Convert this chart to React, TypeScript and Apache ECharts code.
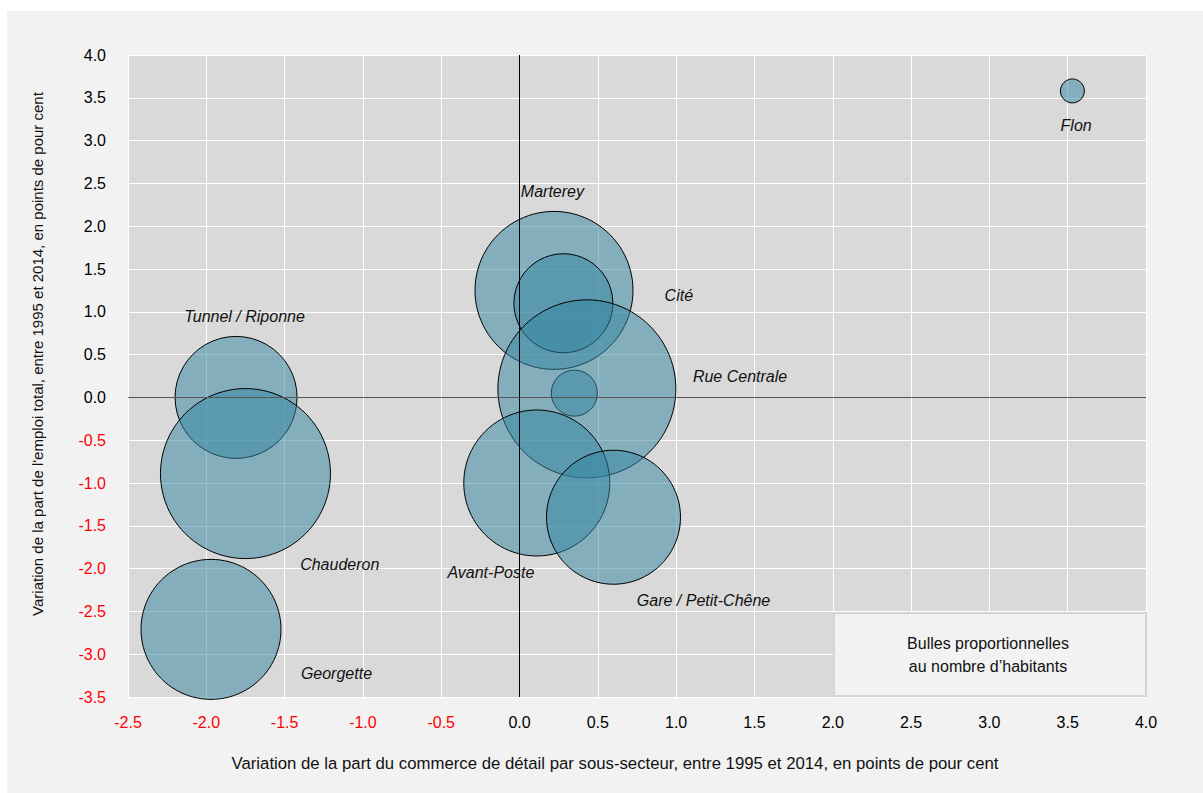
import React, { useEffect, useRef } from "react";
import * as echarts from "echarts";

// ---- Data ----
const districts = [
  "Flon",
  "Marterey",
  "Cité",
  "",
  "Rue Centrale",
  "Tunnel / Riponne",
  "Chauderon",
  "Georgette",
  "Avant-Poste",
  "Gare / Petit-Chêne",
];
// Variation de la part du commerce de détail (x)
const retailShareChange = [3.53, 0.22, 0.28, 0.35, 0.43, -1.81, -1.75, -1.97, 0.11, 0.6];
// Variation de la part de l'emploi total (y)
const employmentShareChange = [3.58, 1.25, 1.1, 0.05, 0.1, 0.0, -0.89, -2.71, -1.0, -1.4];
// Relative number of inhabitants (bubble area)
const inhabitants = [144, 6241, 2450, 529, 7921, 3721, 7225, 4900, 5329, 4489];

// Label anchors (data coordinates)
const labelNames = [
  "Flon",
  "Marterey",
  "Cité",
  "Rue Centrale",
  "Tunnel / Riponne",
  "Chauderon",
  "Avant-Poste",
  "Gare / Petit-Chêne",
  "Georgette",
];
const labelX = [3.554, 0.21, 1.017, 1.408, -1.756, -1.148, -0.183, 1.175, -1.169];
const labelY = [3.18, 2.4, 1.185, 0.24, 0.95, -1.95, -2.04, -2.37, -3.22];

const xTitle =
  "Variation de la part du commerce de détail par sous-secteur, entre 1995 et 2014, en points de pour cent";
const yTitle =
  "Variation de la part de l'emploi total, entre 1995 et 2014, en points de pour cent";
const noteLines = ["Bulles proportionnelles", "au nombre d\u2019habitants"];

const FONT = '"Liberation Sans", Arial, sans-serif';
const FS = 16;

export default function App() {
  const ref = useRef<HTMLDivElement>(null);

  useEffect(() => {
    if (!ref.current) return;
    const chart = echarts.init(ref.current, undefined, { renderer: "svg" });

    const bubbleData = districts.map((n, i) => [
      retailShareChange[i],
      employmentShareChange[i],
      inhabitants[i],
      n,
    ]);
    const labelData = labelNames.map((n, i) => [labelX[i], labelY[i], n]);

    const tickColor = (v: any) => (Number(v) < 0 ? "#ff0000" : "#000000");

    chart.setOption({
      animation: false,
      backgroundColor: "#f2f2f2",
      textStyle: { fontFamily: FONT },
      grid: {
        left: 121,
        top: 44,
        right: 57,
        bottom: 96,
        show: true,
        backgroundColor: "#d9d9d9",
        borderWidth: 0,
      },
      xAxis: {
        type: "value",
        min: -2.5,
        max: 4,
        interval: 0.5,
        axisLine: { show: false },
        axisTick: { show: false },
        splitLine: { show: true, lineStyle: { color: "#ffffff", width: 1 } },
        axisLabel: {
          margin: 17,
          fontFamily: FONT,
          fontSize: FS,
          color: tickColor,
          formatter: (v: number) => v.toFixed(1),
        },
      },
      yAxis: {
        type: "value",
        min: -3.5,
        max: 4,
        interval: 0.5,
        axisLine: { show: false },
        axisTick: { show: false },
        splitLine: { show: true, lineStyle: { color: "#ffffff", width: 1 } },
        axisLabel: {
          margin: 22,
          fontFamily: FONT,
          fontSize: FS,
          color: tickColor,
          formatter: (v: number) => v.toFixed(1),
        },
      },
      graphic: [
        {
          type: "text",
          x: 608,
          y: 752,
          style: {
            text: xTitle,
            font: `16.75px ${FONT}`,
            fill: "#111111",
            align: "center",
            verticalAlign: "middle",
          },
        },
        {
          type: "text",
          x: 30,
          y: 343,
          rotation: Math.PI / 2,
          style: {
            text: yTitle,
            font: `15px ${FONT}`,
            fill: "#111111",
            align: "center",
            verticalAlign: "middle",
          },
        },
        {
          type: "rect",
          left: 826,
          top: 601,
          shape: { width: 312, height: 83 },
          style: { fill: "#f2f2f2", stroke: "#d4d4d4", lineWidth: 2 },
          z: 10,
        },
        {
          type: "text",
          x: 981,
          y: 644,
          z: 11,
          style: {
            text: noteLines.join("\n"),
            font: `${FS}px ${FONT}`,
            fill: "#111111",
            align: "center",
            verticalAlign: "middle",
            lineHeight: 23,
          },
        },
      ],
      series: [
        {
          type: "scatter",
          data: bubbleData,
          symbolSize: (d: any[]) => 2 * Math.sqrt(d[2]),
          itemStyle: {
            color: "rgba(53,135,162,0.52)",
            borderColor: "#000000",
            borderWidth: 1,
            opacity: 1,
          },
          emphasis: { disabled: true },
          silent: true,
          z: 2,
        },
        {
          type: "scatter",
          data: labelData,
          symbolSize: 1,
          itemStyle: { color: "rgba(0,0,0,0)", opacity: 1 },
          silent: true,
          z: 3,
          label: {
            show: true,
            position: "inside",
            formatter: (p: any) => p.data[2],
            fontFamily: FONT,
            fontSize: FS,
            fontStyle: "italic",
            color: "#111111",
            textBorderWidth: 0,
          },
          markLine: {
            silent: true,
            symbol: ["none", "none"],
            label: { show: false },
            data: [
              { xAxis: 0, lineStyle: { color: "#000000", width: 1, type: "solid" } },
              { yAxis: 0, lineStyle: { color: "#555555", width: 1, type: "solid" } },
            ],
          },
        },
      ],
    });

    return () => chart.dispose();
  }, []);

  return (
    <div
      style={{
        position: "absolute",
        left: 7,
        top: 11,
        width: 1196,
        height: 782,
        background: "#f2f2f2",
      }}
    >
      <div ref={ref} style={{ width: 1196, height: 782 }} />
    </div>
  );
}
